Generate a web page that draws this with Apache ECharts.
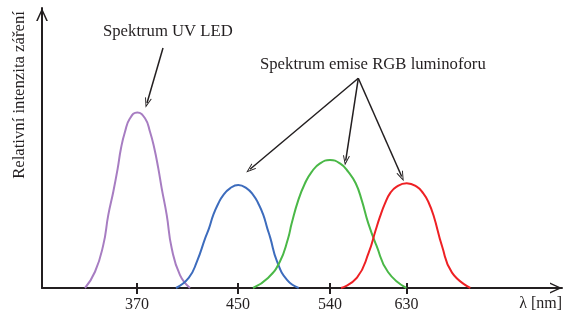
<!DOCTYPE html>
<html>
<head>
<meta charset="utf-8">
<script src="https://cdn.jsdelivr.net/npm/echarts@6.0.0/dist/echarts.min.js"></script>
<style>
  html, body { margin: 0; padding: 0; background: #fff; }
  #spektrum { width: 563px; height: 318px; }
</style>
</head>
<body>
<div id="spektrum"></div>
<script>
// osa λ je jen schematicka (neni linearni) - poloha 0..520 podel osy
var tickPos = [95, 196, 288, 364.5];
var tickLabels = ['370', '450', '540', '630'];

// UV LED
var uvX = [43, 53, 61.3, 66.3, 71.3, 75.7, 79, 83, 88, 95.3, 103, 108, 112.3, 116.3, 119.7, 124.7, 129.7, 138, 148];
var uvY = [0, 5.8, 15.4, 26.1, 34.4, 42.7, 49.9, 55.8, 60.6, 62.7, 60.6, 55.8, 49.9, 42.7, 35.6, 26.1, 14.2, 4.6, 0];
// modra
var blueX = [134, 146.7, 155, 163.3, 167, 171.3, 176.3, 181.3, 188, 196.3, 204.7, 211.3, 216.3, 221.3, 225.3, 228.3, 235, 245, 256.7];
var blueY = [0, 3.6, 9.5, 17.9, 21.3, 26.1, 30.2, 33.2, 35.6, 36.8, 35.6, 33.2, 30.2, 26.1, 21.3, 17.9, 9.5, 2.9, 0];
// zelena
var greenX = [211, 226, 237.7, 246, 249.7, 256.3, 263, 269.7, 278, 288, 298, 306.3, 313.7, 319.7, 326.3, 334.3, 346, 364.3];
var greenY = [0, 3.6, 9.3, 17.6, 23.1, 31.4, 37.4, 41.5, 44.5, 45.7, 44.5, 41.5, 37.4, 31.4, 23.1, 15.3, 5.7, 0];
// cervena
var redX = [299, 315, 326.7, 333.7, 338, 343, 348, 354.7, 364.7, 374.7, 381.3, 386.3, 391.7, 400, 410, 428.3];
var redY = [0, 3.7, 12.6, 20.7, 25.5, 30.2, 33.8, 36.2, 37.4, 36.2, 33.8, 30.8, 25.7, 15, 5.5, 0];

// popisky se sipkami: [odkud, kam]
var uvArrow = [[121, 85.7], [105, 66.1]];
var rgbFrom = [316.3, 74.9];
var rgbTo = [[208, 42.4], [303.7, 45.5], [359.7, 39.8]];

var ink = '#231f20';
var serif = 'Liberation Serif';
var font = '16.7px "' + serif + '"';
var chevron = 'path://M0,110 L50,0 L100,110 L86,110 L50,30 L14,110 Z';

function zip(xs, ys) {
	var out = [];
	for (var i = 0; i < xs.length; i++) out.push([xs[i], ys[i]]);
	return out;
}

function curve(name, xs, ys, color) {
	return {
		name: name,
		type: 'line',
		data: zip(xs, ys),
		smooth: 0.5,
		showSymbol: false,
		silent: true,
		lineStyle: { color: color, width: 2 },
		z: 3
	};
}

var arrowLines = [[{ coord: uvArrow[0] }, { coord: uvArrow[1] }]];
for (var i = 0; i < rgbTo.length; i++) {
	arrowLines.push([{ coord: rgbFrom }, { coord: rgbTo[i] }]);
}

var tickFmt = function (v) {
	var k = tickPos.indexOf(v);
	return k < 0 ? '' : tickLabels[k];
};

option = {
	animation: false,
	grid: { left: 42, right: 1, top: 8, bottom: 30, containLabel: false, outerBoundsMode: 'none' },
	xAxis: [
		{
			type: 'value', min: 0, max: 520, position: 'bottom',
			axisLine: {
				show: true,
				symbol: ['none', chevron],
				symbolSize: [11, 12],
				symbolOffset: [0, -6],
				lineStyle: { color: ink, width: 2 }
			},
			axisTick: { show: true, inside: true, length: 5, customValues: tickPos, lineStyle: { color: ink, width: 2 } },
			axisLabel: {
				show: true, customValues: tickPos, formatter: tickFmt,
				margin: 9, fontFamily: serif, fontSize: 16, color: ink
			},
			splitLine: { show: false }
		},
		{
			// druha osa jen kvuli carkam pod osou
			type: 'value', min: 0, max: 520, position: 'bottom',
			axisLine: { show: false },
			axisTick: { show: true, inside: false, length: 6, customValues: tickPos, lineStyle: { color: ink, width: 2 } },
			axisLabel: { show: false },
			splitLine: { show: false }
		}
	],
	yAxis: {
		type: 'value', min: 0, max: 100,
		axisLine: {
			show: true,
			symbol: ['none', chevron],
			symbolSize: [12, 13],
			symbolOffset: [0, -6.5],
			lineStyle: { color: ink, width: 2 }
		},
		axisTick: { show: false },
		axisLabel: { show: false },
		splitLine: { show: false }
	},
	series: [
		curve('UV LED', uvX, uvY, '#a77dc2'),
		curve('B', blueX, blueY, '#3d6cbd'),
		curve('G', greenX, greenY, '#4ab847'),
		curve('R', redX, redY, '#ee2024'),
		{
			name: 'sipky',
			type: 'line',
			data: [],
			markLine: {
				silent: true,
				symbol: ['none', chevron],
				symbolSize: [7, 10],
				label: { show: false },
				lineStyle: { color: ink, width: 1.5, type: 'solid' },
				emphasis: { disabled: true },
				data: arrowLines
			}
		}
	],
	graphic: [
		{
			type: 'text', x: 20, y: 95, rotation: Math.PI / 2,
			style: { text: 'Relativní intenzita záření', font: font, fill: ink, align: 'center', verticalAlign: 'middle' }
		},
		{
			type: 'text', x: 103, y: 32,
			style: { text: 'Spektrum UV LED', font: font, fill: ink, align: 'left', verticalAlign: 'middle' }
		},
		{
			type: 'text', x: 260, y: 65,
			style: { text: 'Spektrum emise RGB luminoforu', font: font, fill: ink, align: 'left', verticalAlign: 'middle' }
		},
		{
			type: 'text', x: 562, y: 304,
			style: { text: 'λ [nm]', font: '16px "' + serif + '"', fill: ink, align: 'right', verticalAlign: 'middle' }
		}
	]
};

var chart = echarts.init(document.getElementById('spektrum'));
chart.setOption(option);
</script>
</body>
</html>
